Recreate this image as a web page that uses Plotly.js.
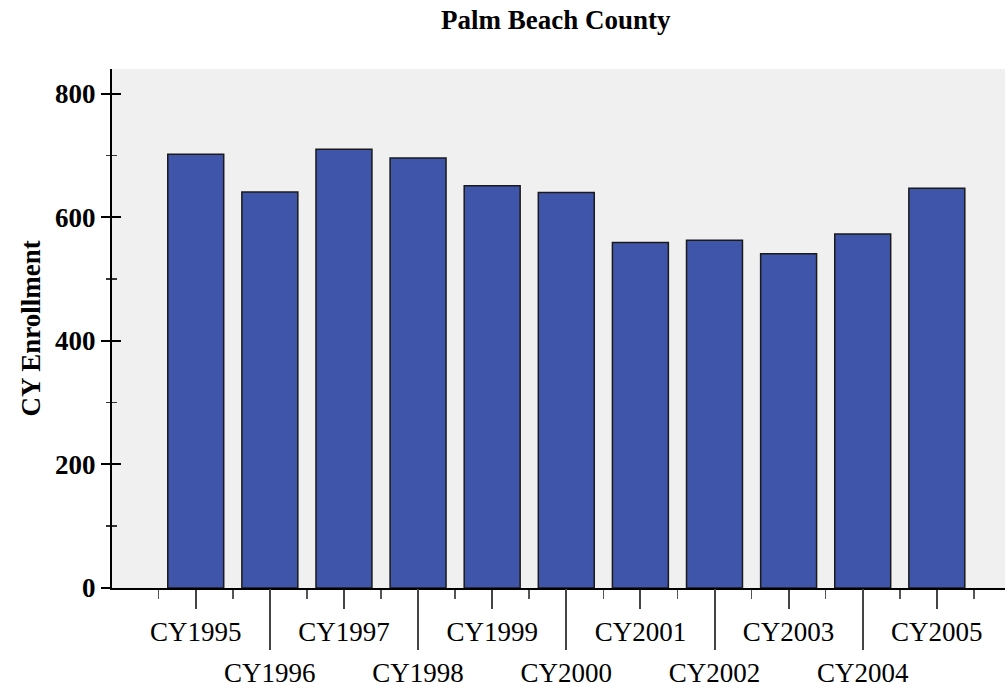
<!DOCTYPE html>
<html>
<head>
<meta charset="utf-8">
<script src="https://cdn.plot.ly/plotly-3.0.1.min.js"></script>
<style>html,body{margin:0;padding:0;background:#fff;}#chart{width:1005px;height:691px;}</style>
</head>
<body>
<div id="chart"></div>
<script>
const chartTitle = 'Palm Beach County';
const yTitle = 'CY Enrollment';
const categories = ['CY1995','CY1996','CY1997','CY1998','CY1999','CY2000','CY2001','CY2002','CY2003','CY2004','CY2005'];
const enrollment = [702, 641, 710, 696, 651, 640, 559, 563, 541, 573, 647];
const yTicks = [0, 200, 400, 600, 800];
const yMinor = [100, 300, 500, 700];

const idx = categories.map((c, i) => i);
const row1 = idx.filter(i => i % 2 === 0);
const row2 = idx.filter(i => i % 2 === 1);
const halfSteps = [-0.5].concat(idx.map(i => i + 0.5));

const serif = 'Liberation Serif, Times New Roman, serif';

const trace = {
  type: 'bar',
  x: idx,
  y: enrollment,
  marker: {color: '#3f55aa', line: {color: '#1a1a1a', width: 1.5}},
  hoverinfo: 'x+y'
};
// helper traces (draw nothing) so the overlay axes are rendered
const helperX2 = {type: 'scatter', x: idx, y: enrollment, xaxis: 'x2', yaxis: 'y', mode: 'none', hoverinfo: 'skip', showlegend: false};
const helperY2 = {type: 'scatter', x: idx, y: enrollment, xaxis: 'x', yaxis: 'y2', mode: 'none', hoverinfo: 'skip', showlegend: false};

const layout = {
  width: 1005, height: 691,
  margin: {l: 112, r: 0, t: 69, b: 103},
  paper_bgcolor: '#ffffff',
  plot_bgcolor: '#f0f0f0',
  showlegend: false,
  bargap: 0.245,
  title: {text: chartTitle, font: {family: serif, size: 27, color: '#000', weight: 'bold'}, x: 0.497, xref: 'paper', xanchor: 'center', y: 0.985, yref: 'container', yanchor: 'top'},
  xaxis: {
    range: [-1.13, 10.92], showgrid: false, zeroline: false,
    showline: true, linecolor: '#000', linewidth: 2,
    tickmode: 'array', tickvals: row1, ticktext: row1.map(i => categories[i]),
    ticks: 'outside', ticklen: 19, tickwidth: 2, tickcolor: '#444',
    tickfont: {family: serif, size: 27, color: '#000'},
    minor: {tickmode: 'array', tickvals: halfSteps, ticks: 'outside', ticklen: 9, tickwidth: 1.5, tickcolor: '#555', showgrid: false}
  },
  xaxis2: {
    overlaying: 'x', matches: 'x', anchor: 'y', side: 'bottom',
    showgrid: false, zeroline: false, showline: false,
    tickmode: 'array', tickvals: row2, ticktext: row2.map(i => categories[i]),
    ticks: 'outside', ticklen: 61, tickwidth: 2, tickcolor: '#444',
    tickfont: {family: serif, size: 27, color: '#000'}
  },
  yaxis: {
    range: [0, 840], showgrid: false, zeroline: false,
    showline: true, linecolor: '#000', linewidth: 2,
    tickmode: 'array', tickvals: yTicks,
    ticks: 'outside', ticklen: 9, tickwidth: 2, tickcolor: '#000',
    tickfont: {family: serif, size: 27, color: '#000', weight: 'bold'},
    minor: {tickmode: 'array', tickvals: yMinor, ticks: 'outside', ticklen: 4, tickwidth: 1.5, tickcolor: '#333', showgrid: false},
    title: {text: yTitle, font: {family: serif, size: 27, color: '#000', weight: 'bold'}, standoff: 7}
  },
  yaxis2: {
    overlaying: 'y', matches: 'y', anchor: 'x', side: 'left',
    showgrid: false, zeroline: false, showline: false, showticklabels: false,
    tickmode: 'array', tickvals: yTicks,
    ticks: 'inside', ticklen: 9, tickwidth: 2, tickcolor: '#000',
    minor: {tickmode: 'array', tickvals: yMinor, ticks: 'inside', ticklen: 5, tickwidth: 1.5, tickcolor: '#333', showgrid: false}
  }
};

Plotly.newPlot('chart', [trace, helperX2, helperY2], layout, {displayModeBar: false, staticPlot: true});
</script>
</body>
</html>
